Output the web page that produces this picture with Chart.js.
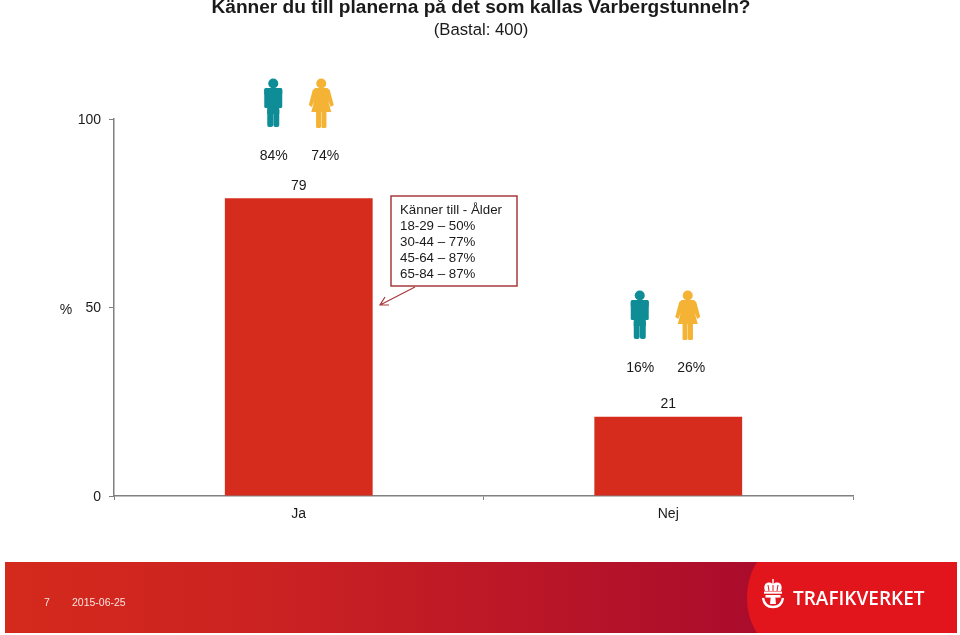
<!DOCTYPE html>
<html>
<head>
<meta charset="utf-8">
<style>
  html, body { margin: 0; padding: 0; background: #fff; }
  canvas { display: block; }
</style>
<script src="https://cdn.jsdelivr.net/npm/chart.js@4/dist/chart.umd.min.js"></script>
</head>
<body>
<canvas id="chartBars" width="960" height="635"></canvas>
<script>
var categories = ['Ja', 'Nej'];
var values = [79, 21];
var menShare = ['84%', '16%'];
var womenShare = ['74%', '26%'];
var yTicks = [0, 50, 100];
var titleText = 'Känner du till planerna på det som kallas Varbergstunneln?';
var subtitleText = '(Bastal: 400)';
var ageLines = ['Känner till - Ålder', '18-29 – 50%', '30-44 – 77%', '45-64 – 87%', '65-84 – 87%'];

var FONT = '"Liberation Sans", Arial, sans-serif';
var TEXT = '#1a1a1a';

function text(ctx, s, x, y, font, align, color) {
    ctx.font = font;
    ctx.textAlign = align || 'center';
    ctx.textBaseline = 'middle';
    ctx.fillStyle = color || TEXT;
    ctx.fillText(s, x, y);
}

function roundBox(ctx, x, y, w, h, r) {
    ctx.beginPath();
    ctx.roundRect(x, y, w, h, r);
    ctx.fill();
}

function drawMan(ctx, cx, top) {
    ctx.fillStyle = '#0f8d96';
    ctx.beginPath();
    ctx.arc(cx, top + 5.5, 5, 0, Math.PI * 2);
    ctx.fill();
    roundBox(ctx, cx - 9, top + 10, 18, 8, 3);
    roundBox(ctx, cx - 9, top + 10, 4.4, 20, 1.5);
    roundBox(ctx, cx + 4.6, top + 10, 4.4, 20, 1.5);
    ctx.fillRect(cx - 6, top + 12, 12, 24);
    roundBox(ctx, cx - 6, top + 30, 5.9, 19, 2);
    roundBox(ctx, cx + 0.1, top + 30, 5.9, 19, 2);
}

function drawWoman(ctx, cx, top) {
    ctx.fillStyle = '#f5b335';
    ctx.beginPath();
    ctx.arc(cx, top + 5.5, 5, 0, Math.PI * 2);
    ctx.fill();
    ctx.beginPath();
    ctx.moveTo(cx - 6, top + 10);
    ctx.lineTo(cx + 6, top + 10);
    ctx.lineTo(cx + 8.5, top + 12);
    ctx.lineTo(cx + 12.5, top + 27);
    ctx.lineTo(cx + 9.5, top + 29);
    ctx.lineTo(cx + 7, top + 23);
    ctx.lineTo(cx + 10, top + 34);
    ctx.lineTo(cx - 10, top + 34);
    ctx.lineTo(cx - 7, top + 23);
    ctx.lineTo(cx - 9.5, top + 29);
    ctx.lineTo(cx - 12.5, top + 27);
    ctx.lineTo(cx - 8.5, top + 12);
    ctx.closePath();
    ctx.fill();
    roundBox(ctx, cx - 5.2, top + 33, 5, 17, 1.5);
    roundBox(ctx, cx + 0.2, top + 33, 5, 17, 1.5);
}

function drawCrown(ctx, x, y) {
    ctx.strokeStyle = '#fff';
    ctx.fillStyle = '#fff';
    // crown dome with slots
    ctx.beginPath();
    ctx.moveTo(x - 8, y - 4);
    ctx.bezierCurveTo(x - 11, y - 13, x - 3, y - 14, x, y - 11);
    ctx.bezierCurveTo(x + 3, y - 14, x + 11, y - 13, x + 8, y - 4);
    ctx.closePath();
    ctx.fill();
    ctx.fillRect(x - 0.7, y - 16, 1.4, 5);
    ctx.fillRect(x - 9, y - 3.5, 18, 2.2);
    ctx.strokeStyle = '#e2141c';
    ctx.lineWidth = 1;
    ctx.beginPath();
    ctx.moveTo(x - 4, y - 4);
    ctx.lineTo(x - 5, y - 10);
    ctx.moveTo(x, y - 4);
    ctx.lineTo(x, y - 10);
    ctx.moveTo(x + 4, y - 4);
    ctx.lineTo(x + 5, y - 10);
    ctx.stroke();
    // T and the curved base
    ctx.strokeStyle = '#fff';
    ctx.lineWidth = 2.4;
    ctx.fillRect(x - 7.5, y, 15, 2.6);
    ctx.beginPath();
    ctx.moveTo(x - 2.2, y + 1);
    ctx.lineTo(x - 3, y + 9);
    ctx.lineTo(x + 3, y + 9);
    ctx.lineTo(x + 2.2, y + 1);
    ctx.closePath();
    ctx.fill();
    ctx.beginPath();
    ctx.moveTo(x - 10, y + 3);
    ctx.bezierCurveTo(x - 9, y + 9, x - 6, y + 12, x, y + 12);
    ctx.bezierCurveTo(x + 6, y + 12, x + 9, y + 9, x + 10, y + 3);
    ctx.stroke();
}

var overlay = {
    id: 'overlay',
    beforeDraw: function (chart) {
        var ctx = chart.ctx;
        ctx.save();
        // footer band
        var g = ctx.createLinearGradient(5, 0, 757, 0);
        g.addColorStop(0, '#d42a1c');
        g.addColorStop(0.35, '#cb2222');
        g.addColorStop(1, '#ab0c2c');
        ctx.fillStyle = g;
        ctx.fillRect(5, 562, 752, 71);
        ctx.fillStyle = '#e2141c';
        ctx.beginPath();
        ctx.moveTo(757, 562);
        ctx.lineTo(957, 562);
        ctx.lineTo(957, 633);
        ctx.lineTo(757, 633);
        ctx.bezierCurveTo(750, 622, 747, 610, 747, 598);
        ctx.bezierCurveTo(747, 586, 750, 573, 757, 562);
        ctx.closePath();
        ctx.fill();
        ctx.restore();
    },
    afterDraw: function (chart) {
        var ctx = chart.ctx;
        var x = chart.scales.x;
        var y = chart.scales.y;
        ctx.save();

        text(ctx, titleText, 481, 8, 'bold 19.1px ' + FONT);
        text(ctx, subtitleText, 481, 30, '16.7px ' + FONT);
        text(ctx, '%', 66, 310, '14px ' + FONT);

        // value labels and gender icons above each bar
        var manX = [-25.5, -28.5];
        var womanX = [22.5, 19.5];
        var iconTop = [78, 290];
        var shareY = [156, 368];
        var manLabelX = [-25, -28];
        var womanLabelX = [26.5, 23];
        categories.forEach(function (c, i) {
            var cx = x.getPixelForValue(i);
            text(ctx, String(values[i]), cx, y.getPixelForValue(values[i]) - 12.5, '14px ' + FONT);
            text(ctx, menShare[i], cx + manLabelX[i], shareY[i], '14px ' + FONT);
            text(ctx, womenShare[i], cx + womanLabelX[i], shareY[i], '14px ' + FONT);
            drawMan(ctx, cx + manX[i], iconTop[i]);
            drawWoman(ctx, cx + womanX[i], iconTop[i]);
        });

        // age callout
        ctx.strokeStyle = '#a83a3c';
        ctx.lineWidth = 1.5;
        ctx.fillStyle = '#fff';
        ctx.fillRect(391, 196, 126, 90);
        ctx.strokeRect(391, 196, 126, 90);
        ctx.lineWidth = 1.2;
        ctx.beginPath();
        ctx.moveTo(415, 287);
        ctx.lineTo(380, 305);
        ctx.moveTo(389, 305);
        ctx.lineTo(380, 305);
        ctx.lineTo(385, 297);
        ctx.stroke();
        ageLines.forEach(function (l, i) {
            text(ctx, l, 400, 210.5 + i * 16, '13.3px ' + FONT, 'left');
        });

        // footer text and logo
        text(ctx, '7', 47, 603, '10.5px ' + FONT, 'center', '#fbe3df');
        text(ctx, '2015-06-25', 72, 603, '10.5px ' + FONT, 'left', '#fbe3df');
        drawCrown(ctx, 773, 595);
        text(ctx, 'TRAFIKVERKET', 793, 600, '600 19px "Open Sans", ' + FONT, 'left', '#fff');
        ctx.restore();
    }
};

var ctx1 = document.getElementById('chartBars');
var myBarChart = new Chart(ctx1, {
    type: 'bar',
    data: {
        labels: categories,
        datasets: [{
            data: values,
            backgroundColor: '#d52c1d',
            barPercentage: 0.4,
            categoryPercentage: 1
        }]
    },
    options: {
        responsive: false,
        animation: false,
        layout: { padding: { left: 0, right: 107, top: 119, bottom: 0 } },
        plugins: {
            legend: { display: false },
            tooltip: { enabled: false }
        },
        scales: {
            x: {
                afterFit: function (s) { s.height = 139; },
                grid: { drawOnChartArea: false, color: '#808080', tickLength: 4 },
                border: { color: '#808080', width: 1.5 },
                ticks: { color: TEXT, padding: 6, font: { family: FONT, size: 14 }, maxRotation: 0 }
            },
            y: {
                min: 0,
                max: 100,
                afterFit: function (s) { s.width = 114; },
                afterBuildTicks: function (s) {
                    s.ticks = yTicks.map(function (v) { return { value: v }; });
                },
                grid: { drawOnChartArea: false, color: '#808080', tickLength: 5 },
                border: { color: '#808080', width: 1.5 },
                ticks: { color: TEXT, padding: 8, labelOffset: 1, font: { family: FONT, size: 14 } }
            }
        }
    },
    plugins: [overlay]
});
</script>
</body>
</html>
